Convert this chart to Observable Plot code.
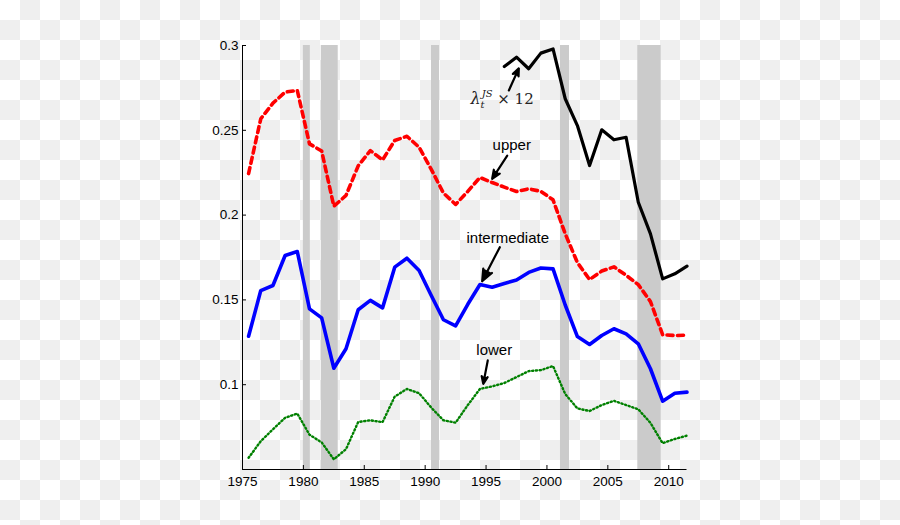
<!DOCTYPE html>
<html>
<head>
<meta charset="utf-8">
<script src="https://cdn.jsdelivr.net/npm/d3@7"></script>
<script src="https://cdn.jsdelivr.net/npm/@observablehq/plot@0.6"></script>
<style>
  html, body { margin: 0; padding: 0; }
  body {
    width: 900px; height: 525px; overflow: hidden;
    background-color: #ffffff;
    background-image: conic-gradient(#efefef 0 25%, #ffffff 0 50%, #efefef 0 75%, #ffffff 0);
    background-size: 40px 40px;
  }
  #chart svg { display: block; }
</style>
</head>
<body>
<div id="chart"></div>
<script>
// ---- data ----
const years = [1975,1976,1977,1978,1979,1980,1981,1982,1983,1984,1985,1986,1987,1988,1989,1990,1991,1992,1993,1994,1995,1996,1997,1998,1999,2000,2001,2002,2003,2004,2005,2006,2007,2008,2009,2010,2011];
const upper = [0.2245,0.2568,0.2660,0.2725,0.2735,0.2420,0.2378,0.2052,0.2116,0.2290,
               0.2380,0.2325,0.2440,0.2465,0.2400,0.2270,0.2130,0.2063,0.2140,0.2222,
               0.2192,0.2165,0.2139,0.2155,0.2140,0.2090,0.1890,0.1720,0.1620,0.1670,
               0.1695,0.1645,0.1590,0.1490,0.1295,0.1290,0.1292];
const intermediate = [0.1286,0.1555,0.1585,0.1762,0.1785,0.1447,0.1394,0.1097,0.1212,0.1442,
                      0.1497,0.1453,0.1693,0.1746,0.1673,0.1526,0.1383,0.1347,0.1474,0.1591,
                      0.1575,0.1597,0.1617,0.1662,0.1688,0.1683,0.1470,0.1284,0.1237,0.1290,
                      0.1330,0.1300,0.1241,0.1094,0.0903,0.0950,0.0956];
const lower = [0.0569,0.0667,0.0737,0.0805,0.0830,0.0705,0.0660,0.0560,0.0620,0.0780,
               0.0790,0.0779,0.0930,0.0975,0.0950,0.0865,0.0790,0.0776,0.0880,0.0975,
               0.0990,0.1010,0.1045,0.1080,0.1086,0.1110,0.0945,0.0860,0.0845,0.0880,
               0.0905,0.0880,0.0855,0.0775,0.0655,0.0680,0.0700];
const lambdaYears = [1996,1997,1998,1999,2000,2001,2002,2003,2004,2005,2006,2007,2008,2009,2010,2011];
const lambdaX12 = [0.2876,0.2931,0.2863,0.2955,0.2980,0.2686,0.2528,0.2292,0.2503,0.2444,0.2459,0.2076,0.1889,0.1624,0.1654,0.1699];

const recessionStart = [1980.00, 1981.47, 1990.52, 2001.11, 2007.46];
const recessionEnd   = [1980.57, 1982.86, 1991.18, 2001.85, 2009.38];

const xTicks = [1975,1980,1985,1990,1995,2000,2005,2010];
const yTicks = [0.1,0.15,0.2,0.25,0.3];

const labelNames = ["λ", "upper", "intermediate", "lower"];
const labelX = [1993.72, 1997.11, 1996.78, 1995.67];
const labelY = [0.2685, 0.2410, 0.1866, 0.1202];
const arrowX1 = [1996.87, 1996.74, 1996.13, 1995.14];
const arrowY1 = [0.2735, 0.2351, 0.1811, 0.1143];
const arrowX2 = [1997.69, 1995.50, 1994.68, 1994.77];
const arrowY2 = [0.2865, 0.2214, 0.1610, 0.1005];

// ---- tables ----
const offset = 0.5; // annual values plotted mid-year
const mk = (ys, vs) => ys.map((y, i) => ({x: y + offset, v: vs[i]}));
const upperData = mk(years, upper);
const interData = mk(years, intermediate);
const lowerData = mk(years, lower);
const lambdaData = mk(lambdaYears, lambdaX12);
const recessions = recessionStart.map((s, i) => ({s, e: recessionEnd[i]}));
const labels = labelNames.map((t, i) => ({t, x: labelX[i], y: labelY[i]}));
const arrows = arrowX1.map((x1, i) => ({x1, y1: arrowY1[i], x2: arrowX2[i], y2: arrowY2[i]}));

const chart = Plot.plot({
  width: 900,
  height: 525,
  marginLeft: 242,
  marginRight: 213.5,
  marginTop: 45,
  marginBottom: 56,
  style: {background: "transparent", fontFamily: "'Liberation Sans', Arial, Helvetica, sans-serif", fontSize: "13.5px", color: "black", overflow: "visible"},
  x: {domain: [1975, 2011.5], label: null},
  y: {domain: [0.05, 0.3], label: null},
  marks: [
    Plot.rect(recessions, {x1: "s", x2: "e", fill: "#cbcbcb"}),
    Plot.line(lowerData, {x: "x", y: "v", stroke: "#008000", strokeWidth: 2.4, strokeDasharray: "1.2 2.6"}),
    Plot.line(interData, {x: "x", y: "v", stroke: "#0000ff", strokeWidth: 3.6}),
    Plot.line(upperData, {x: "x", y: "v", stroke: "#ff0000", strokeWidth: 3.6, strokeDasharray: "6 4.5"}),
    Plot.line(lambdaData, {x: "x", y: "v", stroke: "#000000", strokeWidth: 3.2}),
    Plot.arrow(arrows, {x1: "x1", y1: "y1", x2: "x2", y2: "y2", stroke: "black", strokeWidth: 2.2, headLength: 10, headAngle: 45}),
    Plot.text(labels.filter(d => d.t !== "λ"), {x: "x", y: "y", text: "t", fontSize: 15, fill: "black", textAnchor: "middle"}),
    Plot.text(labels.filter(d => d.t === "λ"), {x: "x", y: "y", text: "t", fontSize: 16, fill: "#222", textAnchor: "start", fontFamily: "'DejaVu Serif', 'Liberation Serif', serif"}),
    Plot.ruleX([1975]),
    Plot.ruleY([0.05]),
    Plot.axisX({ticks: xTicks, tickSize: -4, tickPadding: 11, tickFormat: d => String(d)}),
    Plot.axisY({ticks: yTicks, tickSize: -4, tickPadding: 8, tickFormat: d => String(+d.toFixed(2))})
  ]
});
document.getElementById("chart").appendChild(chart);

// filled arrow heads
d3.select(chart).selectAll('g[aria-label="arrow"] path').attr("fill", "black").attr("stroke-linejoin", "miter");

// λ_t^{JS} × 12 label formatting
d3.select(chart).selectAll("text").filter(function() { return this.textContent === "λ"; }).each(function() {
  const t = d3.select(this);
  const txt = t.select("tspan").empty() ? t : t.select("tspan");
  txt.text(null);
  txt.append("tspan").attr("font-style", "italic").text("λ");
  txt.append("tspan").attr("font-style", "italic").attr("font-size", 10).attr("dy", 4).text("t");
  txt.append("tspan").attr("font-style", "italic").attr("font-size", 10).attr("dx", -3).attr("dy", -11).text("JS");
  txt.append("tspan").attr("font-size", 15).attr("dy", 7).text(" × 12");
});
</script>
</body>
</html>
